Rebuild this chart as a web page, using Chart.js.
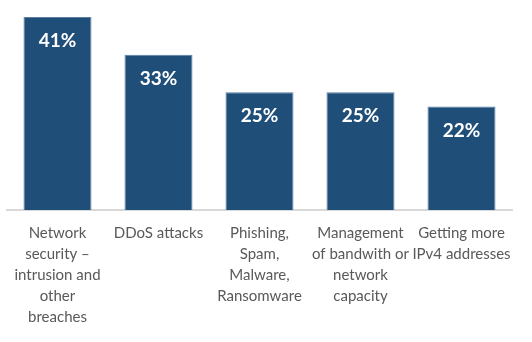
<!DOCTYPE html>
<html>
<head>
<meta charset="utf-8">
<script src="https://cdn.jsdelivr.net/npm/chart.js@4/dist/chart.umd.min.js"></script>
<style>
  html, body { margin: 0; padding: 0; background: #ffffff; }
  #wrap { width: 532px; height: 342px; position: relative; }
</style>
</head>
<body>
<div id="wrap"><canvas id="chart"></canvas></div>
<script>
const categories = [
  ['Network', 'security \u2013', 'intrusion and', 'other', 'breaches'],
  ['DDoS attacks'],
  ['Phishing,', 'Spam,', 'Malware,', 'Ransomware'],
  ['Management', 'of bandwith or', 'network', 'capacity'],
  ['Getting more', 'IPv4 addresses']
];
const values = [41, 33, 25, 25, 22];

// white % labels inside the top of each bar
const insideLabels = {
  id: 'insideLabels',
  afterDatasetsDraw(chart) {
    const ctx = chart.ctx;
    const meta = chart.getDatasetMeta(0);
    ctx.save();
    ctx.fillStyle = '#ffffff';
    ctx.font = 'bold 19px Lato';
    ctx.textAlign = 'center';
    ctx.textBaseline = 'middle';
    meta.data.forEach((bar, i) => {
      ctx.fillText(values[i] + '%', bar.x, bar.y + 24);
    });
    ctx.restore();
  }
};

new Chart(document.getElementById('chart'), {
  type: 'bar',
  data: {
    labels: categories,
    datasets: [{
      data: values,
      backgroundColor: '#1f4e79',
      borderColor: '#5a7fa3',
      borderWidth: 1,
      barPercentage: 0.74,
      categoryPercentage: 0.91
    }]
  },
  options: {
    responsive: true,
    maintainAspectRatio: false,
    animation: false,
    layout: { padding: { left: 7, right: 20, top: 17, bottom: 9 } },
    plugins: {
      legend: { display: false },
      tooltip: { enabled: false }
    },
    scales: {
      y: { display: false, min: 0, max: 41 },
      x: {
        grid: { display: false },
        border: { display: true, color: '#d9d9d9', width: 2 },
        ticks: {
          color: '#595959',
          font: { family: 'Lato', size: 15, lineHeight: 1.4 },
          padding: 5,
          maxRotation: 0,
          autoSkip: false
        }
      }
    }
  },
  plugins: [insideLabels]
});
</script>
</body>
</html>
